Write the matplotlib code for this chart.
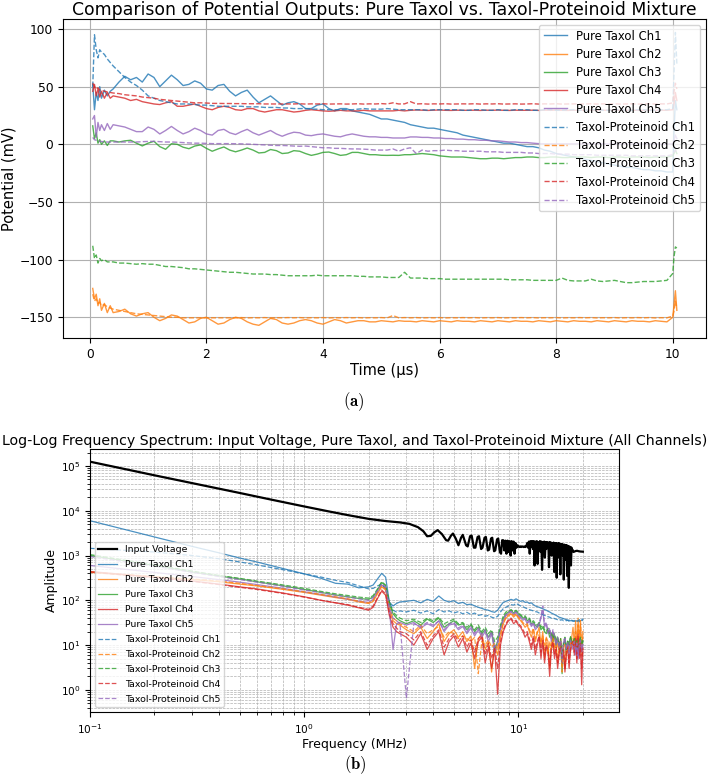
import matplotlib
matplotlib.use("Agg")
import matplotlib.pyplot as plt

plt.rcParams['font.family'] = ['DejaVu Sans']
plt.rcParams['mathtext.fontset'] = 'cm'

# ---------------- (a) time-domain potentials ----------------
time_us = [0.05, 0.08, 0.11, 0.14, 0.17, 0.2, 0.25, 0.3, 0.35, 0.4,
           0.5, 0.6, 0.7, 0.8, 0.9, 1.0, 1.1, 1.2, 1.3, 1.4,
           1.5, 1.6, 1.7, 1.8, 1.9, 2.0, 2.1, 2.2, 2.3, 2.4,
           2.5, 2.6, 2.7, 2.8, 2.9, 3.0, 3.1, 3.2, 3.3, 3.4,
           3.5, 3.6, 3.7, 3.8, 3.9, 4.0, 4.1, 4.2, 4.3, 4.4,
           4.5, 4.6, 4.7, 4.8, 4.9, 5.0, 5.1, 5.2, 5.3, 5.4,
           5.5, 5.6, 5.7, 5.8, 5.9, 6.0, 6.1, 6.2, 6.3, 6.4,
           6.5, 6.6, 6.7, 6.8, 6.9, 7.0, 7.1, 7.2, 7.3, 7.4,
           7.5, 7.6, 7.7, 7.8, 7.9, 8.0, 8.1, 8.2, 8.3, 8.4,
           8.5, 8.6, 8.7, 8.8, 8.9, 9.0, 9.1, 9.2, 9.3, 9.4,
           9.5, 9.6, 9.7, 9.8, 9.9, 10.0,
           10.02, 10.045, 10.07]

pure_ch1 = [52, 30, 45, 38, 50, 40, 47, 42, 46, 48,
            54, 59, 56, 58, 54, 61, 58, 50, 55, 60,
            56, 51, 52, 55, 53, 48, 47, 51, 52, 46,
            42, 45, 47, 41, 36, 39, 42, 38, 34, 36,
            37, 35, 31, 31, 34, 35, 31, 29, 31, 31,
            29, 28, 27, 26, 24, 22, 22, 21, 20, 19,
            17, 16, 15, 14, 14, 13, 12, 11, 10, 8,
            7, 6, 5, 4, 3, 2, 1, 1, 0, -1,
            -2, -2, -3, -5, -6, -8, -9, -10, -11, -12,
            -13, -14, -15, -16, -17, -18, -19, -20, -20, -21,
            -22, -22, -23, -23, -24, -24,
            10, 38, 30]
pure_ch2 = [-125, -134, -130, -140, -134, -144, -138, -146, -140, -146,
            -145, -143, -147, -149, -147, -146, -150, -153, -151, -148,
            -149, -152, -155, -154, -151, -150, -153, -156, -155, -152,
            -150, -151, -154, -156, -157, -154, -151, -152, -155, -156,
            -155, -153, -152, -153, -155, -156, -154, -152, -153, -155,
            -154, -153, -153, -154, -154, -153, -153.5, -154, -153, -153.5,
            -153.5, -154, -153, -153.5, -154, -153, -153.5, -154, -153, -153.5,
            -153.5, -154, -153, -153.5, -154, -153, -153.5, -154, -153, -153.5,
            -153.5, -154, -153, -153.5, -154, -153, -153.5, -154, -153, -153.5,
            -153.5, -154, -153, -153.5, -154, -153, -153.5, -154, -153, -153.5,
            -153.5, -154, -153, -153.5, -154, -150,
            -140, -127, -144]
pure_ch3 = [16, 5, 10, 1, 4, 0, 3, -1, 3, 3,
            2, 3, 3.5, 1, -1.4, 1, 2.6, -2, -4.3, 0.5,
            0, -2.5, -3.8, -1.5, -0.5, -3.5, -6, -4, -2.3, -5,
            -6.5, -5, -3.2, -5, -7.5, -7, -4.5, -5.5, -8, -7.5,
            -5.5, -6, -8, -9.6, -8.5, -7, -6.7, -8, -9.6, -9,
            -7, -7, -8, -9, -9, -9.5, -9.6, -9.5, -9.6, -9,
            -9, -8.5, -8, -8.5, -9, -10, -10.5, -11, -11, -11,
            -11.5, -12, -12.5, -12.5, -12, -12, -12.5, -12, -11.5, -11.5,
            -11, -11, -11.5, -11.5, -11, -11, -11.5, -11.5, -11, -11,
            -11, -11.5, -11, -11, -11.5, -11, -11, -11.5, -11, -11,
            -11, -11.5, -11, -11, -11, -10,
            -8, -5, -8]
pure_ch4 = [46, 52, 42, 48, 41, 46, 40, 45, 40, 42,
            41, 40, 38, 39, 37, 36, 35, 34.5, 36, 37,
            33, 33, 34, 35, 33, 31, 30, 32, 33, 32,
            30, 29.5, 31, 31, 29, 28, 29, 30, 30, 29,
            28, 28.5, 29.5, 30, 29.5, 29, 28.7, 29, 29.5, 29,
            29, 29, 29.5, 29, 29, 29, 29, 29, 29.5, 29,
            29.5, 29.8, 29.6, 29.4, 29.6, 29.8, 29.5, 29.4, 29.6, 29.5,
            29.5, 29.6, 29.4, 29.6, 29.5, 29.7, 29.5, 29.4, 29.6, 29.5,
            29.5, 29.6, 29.4, 29.6, 29.5, 29.7, 29.5, 29.4, 29.6, 29.5,
            29.5, 29.6, 29.4, 29.6, 29.5, 29.7, 29.5, 29.4, 29.6, 29.5,
            29.5, 29.6, 29.4, 29.6, 29.5, 30,
            35, 45, 38]
pure_ch5 = [22, 25, 6, 19, 12, 17, 12, 18, 13, 17,
            16, 15, 13, 11, 11, 15, 13, 9, 12, 15.5,
            12, 9, 11, 14, 12, 9, 8, 12, 13, 10,
            8.5, 11, 13, 10, 8, 10, 12, 9, 7, 9,
            10.5, 10, 8, 7.5, 8.5, 9, 8, 7, 6.5, 8,
            9, 8, 7, 6.5, 6.5, 6, 6, 5.5, 5.5, 5.5,
            6.4, 6.4, 6, 6, 5.5, 5.5, 5, 5, 4.5, 4.5,
            4, 4, 3.5, 3.5, 3, 3, 2.5, 2, 2, 1.5,
            1.5, 1, 0.6, 0.5, 0.5, 0.5, 0.5, 0.5, 0.5, 0.5,
            0.5, 0.5, 0.5, 0.5, 0.3, 0.3, 0.3, 0.3, 0.3, 0.3,
            0.3, 0.3, 0.3, 0.2, 0.2, 0.5,
            3, 8, 5]

tp_ch1 = [50, 95, 82, 75, 82, 80, 78, 74, 71, 68,
          63, 58, 54, 51, 47, 42, 40, 38, 37, 36,
          35, 35, 35, 34.5, 34, 34, 33.5, 33, 33, 33,
          33, 33, 32.5, 32.5, 32.5, 32, 32, 32, 31.5, 31.5,
          31, 31, 31, 30.5, 30.5, 30, 30, 30, 30, 30,
          30, 30.5, 31, 30.5, 30.5, 30.5, 31, 30.5, 30, 30,
          30, 30, 30, 29.5, 30, 30, 30, 30, 30, 29.5,
          29.5, 30, 30, 29.5, 29.5, 30, 29.5, 29.5, 30, 30,
          30, 29.5, 29.5, 30, 30, 29.5, 29.5, 30, 30, 29.5,
          29.5, 30, 30, 29.5, 29.5, 30, 30, 29.5, 29.5, 30,
          30, 29.5, 29.5, 30, 30, 31,
          60, 97, 70]
tp_ch2 = [-130, -136, -134, -138, -137, -140, -139, -141, -142, -143,
          -144, -145, -146, -147, -147.5, -148, -148.5, -149, -149.5, -150,
          -150, -150.5, -150.5, -150.5, -150.5, -150.5, -150.5, -150.5, -150.5, -150.5,
          -150.5, -150.3, -150.6, -150.4, -150.5, -150.3, -150.6, -150.4, -150.5, -150.3,
          -150.5, -150.3, -150.6, -150.4, -150.5, -150.3, -150.6, -150.4, -150.5, -150.3,
          -150.5, -150.3, -150.6, -150.4, -150.5, -150.3, -150.6, -148.5, -150.5, -150.3,
          -150.5, -150.3, -150.6, -150.4, -150.5, -150.3, -150.6, -150.4, -150.5, -150.3,
          -150.5, -150.3, -150.6, -150.4, -150.5, -150.3, -150.6, -150.4, -150.5, -150.3,
          -150.5, -150.3, -150.6, -150.4, -150.5, -150.3, -150.6, -150.4, -150.5, -150.3,
          -150.5, -150.3, -150.6, -150.4, -150.5, -150.3, -150.6, -150.4, -150.5, -150.3,
          -150.5, -150.3, -150.6, -150.4, -150.5, -149,
          -145, -136, -142]
tp_ch3 = [-88, -99, -96, -103, -99, -101, -100, -102, -102, -102,
          -103, -103, -103.5, -104, -103.5, -104, -104, -105, -106, -106,
          -106.5, -107, -108, -108, -108.5, -109, -109.5, -110, -110.5, -111,
          -111, -111.5, -112, -112.5, -112.5, -112.5, -113, -113, -113.5, -114,
          -114, -114, -114, -114, -113.5, -114, -114, -114, -114, -114,
          -114, -114.5, -114.5, -115, -115, -115, -115.5, -115.5, -115.5, -111,
          -116, -116, -116, -116.5, -116.5, -116.5, -117, -117, -117, -117,
          -117, -117, -117, -117, -117, -117, -117, -117.5, -117.5, -117.5,
          -117.5, -118, -118, -118, -118, -118, -116, -118, -118.5, -118.5,
          -118.5, -117, -118.5, -119, -118.5, -118, -119, -120, -120, -119.5,
          -119, -119, -119, -118.5, -118, -112,
          -98, -89, -90]
tp_ch4 = [53, 50, 48, 49, 47, 47, 46, 45.5, 45, 44.5,
          44, 43, 42.5, 42, 41, 40.5, 40, 39, 38.5, 38,
          37.5, 37, 36.5, 36, 36, 35.8, 35.5, 35.5, 35.4, 35.4,
          35.3, 35.3, 35.2, 35.2, 35.2, 35, 35, 35, 35, 35,
          35, 35.2, 34.9, 35.1, 35, 35.2, 34.9, 35, 35.1, 34.9,
          35, 35.2, 34.9, 35.1, 35, 35.3, 35, 36, 35, 35.1,
          37, 35, 35.2, 34.9, 35.1, 35, 35.2, 34.9, 35, 35.1,
          35, 35.2, 34.9, 35.1, 35, 35.2, 34.9, 35, 35.1, 34.9,
          35, 35.2, 34.9, 35.1, 35, 35.2, 34.9, 35, 35.1, 34.9,
          35, 35.2, 34.9, 35.1, 35, 35.2, 34.9, 35, 35.1, 34.9,
          35, 35.2, 34.9, 35.1, 35, 36,
          45, 53, 48]
tp_ch5 = [6, 4, 3.5, 3, 2.5, 2.5, 2, 2, 2, 2,
          2, 2, 2, 2, 2.3, 2.5, 2.6, 2.3, 2, 2,
          1.8, 1.5, 1.2, 1, 1, 0.8, 0.6, 0.6, 0.6, 0.6,
          0.5, 0.4, 0.2, 0, -0.3, -0.5, -0.8, -1, -1, -1.2,
          -1.5, -1.7, -1.5, -2, -2.5, -3, -3, -3.5, -3.5, -3.8,
          -4, -4, -4.2, -4.5, -5, -5, -5, -4, -6, -4,
          -3, -8, -5, -6, -5.5, -5.5, -5, -5.5, -5.5, -6,
          -6, -6, -6, -6.5, -6.5, -6.5, -7, -7, -7, -7,
          -7.5, -7.5, -8, -8, -8, -8.5, -8.5, -8.5, -9, -9,
          -9, -9, -9.5, -9.5, -9.5, -9.5, -9.5, -9.5, -10, -10,
          -10, -10, -10, -10, -10, -9,
          -7, -5, -7]

# ---------------- (b) frequency spectra ----------------
freq_mhz = [0.1, 0.2, 0.3, 0.4, 0.5, 0.6, 0.8, 1.0, 1.2, 1.4,
            1.6, 1.8, 2.0, 2.1, 2.2, 2.3, 2.4, 2.5, 2.6, 2.7, 2.8,
            3.0, 3.25, 3.5, 3.75, 4.0, 4.25, 4.5, 4.75, 5.0, 5.25,
            5.5, 5.75, 6.0, 6.25, 6.5, 6.75, 7.0, 7.25, 7.5, 7.75,
            8.0, 8.25, 8.5, 8.75, 9.0, 9.25, 9.5, 9.75, 10.0, 10.25,
            10.5, 10.75, 11.0, 11.25, 11.5, 11.75, 12.0, 12.25, 12.5, 12.75,
            13.0, 13.25, 13.5, 13.75, 14.0, 14.25, 14.5, 14.75, 15.0, 15.25,
            15.5, 15.75, 16.0, 16.25, 16.5, 16.75, 17.0, 17.25, 17.5, 17.75,
            18.0, 18.25, 18.5, 18.75, 19.0, 19.25, 19.5, 19.75, 20.0]

freq_input = [0.1, 0.2, 0.3, 0.5, 0.7, 1.0, 1.3, 1.6, 2.0, 2.4,
              2.8, 3.1, 3.4, 3.6, 3.75, 3.9, 4.05, 4.2, 4.4, 4.6,
              4.7, 4.85, 4.95, 5.1, 5.25, 5.4, 5.5, 5.7, 5.8, 5.95,
              6.05, 6.2, 6.3, 6.45, 6.55, 6.7, 6.8, 6.95, 7.05, 7.2,
              7.3, 7.45, 7.55, 7.7, 7.8, 7.95, 8.05, 8.2, 8.3, 8.4,
              8.5, 8.6, 8.7, 8.8, 8.9, 9.0, 9.1, 9.2, 9.3, 9.4,
              9.5, 9.6, 9.7, 9.8, 9.9, 10.0, 10.1, 10.2, 10.3, 10.4,
              10.5, 10.6, 10.7, 10.8, 10.9, 11.0, 11.1, 11.2, 11.3, 11.4,
              11.5, 11.6, 11.7, 11.8, 11.9, 12.0, 12.1, 12.2, 12.3, 12.4,
              12.5, 12.6, 12.7, 12.8, 12.9, 13.0, 13.1, 13.2, 13.3, 13.4,
              13.5, 13.6, 13.7, 13.8, 13.9, 14.0, 14.1, 14.2, 14.3, 14.4,
              14.5, 14.6, 14.7, 14.8, 14.9, 15.0, 15.1, 15.2, 15.3, 15.4,
              15.5, 15.6, 15.7, 15.8, 15.9, 16.0, 16.1, 16.2, 16.3, 16.4,
              16.5, 16.6, 16.7, 16.8, 16.9, 17.0, 17.1, 17.2, 17.3, 17.4,
              17.5, 17.6, 17.7, 17.8, 17.9, 18.0, 18.1, 18.2,
              18.5, 18.8, 19.1, 19.5, 20.0]
input_amp = [125000, 62000, 41500, 25000, 17800, 12500, 9700, 8000, 6600, 5900,
             5500, 5100, 4300, 3500, 2700, 2750, 3300, 3700, 3000, 2200,
             2150, 2800, 3100, 2400, 1700, 2500, 2900, 1700, 1600, 2700,
             2800, 1500, 1500, 2600, 2700, 1400, 1500, 2500, 2600, 1300,
             1350, 2400, 2500, 1250, 1300, 2300, 2400, 1200, 1100, 2200,
             2200, 1300, 2150, 1100, 2150, 1200, 2100, 1000, 2100, 1300,
             2050, 1100, 1900, 1500, 1700, 1600, 1550, 1600, 1550, 1600,
             1580, 1550, 1600, 1550, 1650, 1900, 1500, 2050, 1100, 2100,
             1600, 2100, 1400, 2100, 600, 2050, 1500, 2100, 650, 2000,
             1600, 2100, 1200, 2050, 480, 2000, 1500, 2050, 900, 2000,
             1400, 2000, 1600, 1950, 550, 2000, 1500, 1950, 1000, 1900,
             1300, 1950, 430, 1900, 1500, 1900, 320, 1850, 1400, 1900,
             900, 1850, 380, 1800, 1400, 1800, 1000, 1750, 290, 1750,
             1300, 1700, 800, 1700, 350, 1650, 1200, 190, 1600, 1400,
             1550, 600, 1500, 1300, 1350, 1250, 1200, 1220,
             1260, 1280, 1250, 1230, 1220]

spec_pure_ch1 = [6000, 2600, 1600, 1150, 880, 720, 510, 390, 310, 240,
                 230, 190, 200, 220, 300, 400, 330, 90, 75, 85, 92,
                 95, 100, 88, 105, 95, 125, 100, 92, 98, 85,
                 90, 80, 82, 75, 70, 66, 62, 60, 56, 54,
                 60, 75, 90, 95, 100, 105, 100, 108, 100, 95,
                 98, 90, 92, 85, 88, 80, 75, 72, 70, 67,
                 65, 62, 60, 57, 55, 52, 50, 48, 46, 44,
                 42, 41, 40, 39, 38, 37, 36, 36, 35, 35,
                 35, 34, 34, 35, 34, 33, 35, 36, 38]
spec_pure_ch2 = [420, 330, 290, 260, 230, 210, 175, 150, 130, 115,
                 105, 92, 85, 95, 140, 200, 170, 60, 35, 30, 28,
                 22, 18, 25, 14, 20, 30, 12, 18, 22, 15,
                 20, 12, 16, 3, 14, 18, 8, 12, 2.5, 10,
                 6, 15, 30, 40, 45, 50, 42, 48, 40, 35,
                 30, 25, 28, 20, 15, 22, 12, 18, 25, 10,
                 20, 5, 15, 12, 3, 10, 18, 8, 12, 4,
                 9, 14, 6, 10, 3, 8, 12, 5, 9, 15,
                 25, 10, 35, 8, 40, 12, 30, 6, 20]
spec_pure_ch3 = [1000, 600, 430, 350, 300, 260, 210, 175, 150, 132,
                 120, 110, 105, 120, 170, 250, 210, 80, 50, 40, 35,
                 30, 35, 28, 38, 32, 40, 25, 30, 35, 28,
                 30, 22, 28, 20, 25, 18, 22, 15, 20, 8,
                 12, 25, 40, 50, 55, 60, 52, 58, 50, 45,
                 40, 42, 35, 38, 30, 32, 28, 25, 30, 22,
                 25, 20, 18, 22, 15, 18, 12, 16, 10, 14,
                 8, 12, 2.3, 10, 14, 6, 12, 9, 15, 11,
                 10, 13, 8, 12, 6, 10, 14, 8, 12]
spec_pure_ch4 = [440, 330, 270, 230, 200, 180, 145, 120, 100, 88,
                 78, 68, 60, 70, 110, 160, 130, 45, 25, 20, 18,
                 15, 10, 18, 8, 14, 20, 6, 12, 16, 9,
                 14, 7, 11, 5, 12, 15, 4, 9, 3, 8,
                 0.8, 10, 20, 28, 35, 38, 30, 34, 28, 25,
                 20, 15, 18, 12, 8, 14, 6, 10, 15, 5,
                 12, 4, 9, 7, 2, 8, 11, 5, 8, 3,
                 6, 10, 4, 7, 2.5, 6, 9, 3, 7, 10,
                 12, 6, 15, 4, 18, 5, 10, 1.3, 8]
spec_pure_ch5 = [600, 420, 340, 290, 255, 225, 185, 155, 135, 118,
                 106, 96, 90, 105, 155, 220, 190, 60, 8, 30, 32,
                 28, 32, 24, 30, 26, 35, 20, 28, 30, 22,
                 26, 18, 24, 16, 22, 15, 20, 12, 18, 7,
                 10, 22, 35, 45, 52, 55, 48, 54, 45, 40,
                 36, 38, 30, 34, 26, 30, 22, 25, 28, 40,
                 60, 25, 30, 18, 22, 12, 20, 15, 10, 14,
                 8, 12, 4, 10, 14, 7, 11, 6, 12, 9,
                 8, 11, 6, 10, 5, 9, 12, 7, 10]

spec_tp_ch1 = [1450, 1200, 1000, 850, 720, 620, 480, 390, 330, 280,
               250, 210, 180, 185, 210, 230, 180, 90, 60, 55, 58,
               55, 60, 52, 58, 50, 62, 55, 58, 52, 56,
               50, 54, 48, 52, 46, 48, 44, 46, 42, 40,
               44, 55, 65, 70, 75, 80, 78, 85, 80, 75,
               72, 68, 65, 62, 60, 58, 56, 55, 52, 50,
               48, 46, 45, 43, 42, 40, 41, 39, 38, 37,
               38, 36, 37, 35, 36, 35, 36, 34, 35, 36,
               34, 35, 36, 34, 35, 37, 34, 36, 35]
spec_tp_ch2 = [430, 340, 300, 270, 240, 215, 180, 155, 135, 120,
               108, 95, 88, 100, 150, 210, 180, 70, 40, 35, 30,
               25, 20, 28, 18, 22, 26, 15, 20, 18, 14,
               16, 14, 12, 15, 2.3, 12, 10, 13, 9, 11,
               8, 18, 32, 42, 48, 52, 46, 50, 42, 38,
               32, 28, 30, 22, 18, 24, 14, 20, 16, 12,
               16, 10, 14, 6, 12, 8, 15, 10, 7, 11,
               8, 12, 2.5, 9, 11, 6, 10, 7, 12, 9,
               14, 8, 20, 10, 28, 12, 35, 9, 15]
spec_tp_ch3 = [1050, 620, 450, 360, 310, 270, 220, 185, 158, 140,
               128, 118, 112, 128, 180, 260, 220, 90, 55, 45, 40,
               35, 38, 32, 40, 35, 42, 30, 34, 38, 30,
               32, 25, 30, 22, 28, 20, 25, 18, 22, 12,
               15, 28, 45, 55, 58, 62, 55, 60, 52, 48,
               42, 45, 38, 40, 32, 35, 30, 28, 32, 25,
               28, 22, 20, 24, 18, 20, 14, 18, 12, 16,
               10, 14, 5, 12, 15, 8, 13, 10, 16, 12,
               12, 14, 10, 13, 8, 12, 15, 10, 13]
spec_tp_ch4 = [430, 320, 265, 225, 195, 175, 142, 118, 100, 88,
               80, 70, 63, 75, 115, 170, 140, 50, 30, 24, 20,
               18, 13, 20, 10, 16, 22, 9, 14, 18, 12,
               16, 9, 13, 7, 14, 16, 6, 11, 5, 9,
               3, 12, 22, 30, 38, 40, 33, 36, 30, 27,
               22, 18, 20, 14, 10, 16, 8, 12, 16, 7,
               13, 6, 10, 8, 3.5, 9, 12, 6, 9, 4,
               7, 11, 5, 8, 3, 7, 10, 4, 8, 11,
               12, 7, 14, 5, 16, 6, 11, 3, 9]
spec_tp_ch5 = [950, 580, 420, 340, 290, 255, 205, 170, 148, 130,
               118, 108, 100, 115, 165, 230, 200, 70, 40, 35, 30,
               0.65, 30, 26, 32, 28, 34, 22, 30, 32, 24,
               28, 20, 26, 18, 24, 17, 22, 14, 20, 9,
               12, 24, 38, 48, 54, 57, 50, 55, 47, 42,
               38, 40, 32, 36, 28, 32, 24, 27, 30, 45,
               75, 28, 32, 20, 24, 14, 22, 16, 12, 15,
               9, 13, 5, 11, 15, 8, 12, 7, 13, 10,
               9, 12, 7, 11, 6, 10, 13, 8, 11]

channels = ["Ch1", "Ch2", "Ch3", "Ch4", "Ch5"]
colors = ["#1f77b4", "#ff7f0e", "#2ca02c", "#d62728", "#9467bd"]
time_pure = [pure_ch1, pure_ch2, pure_ch3, pure_ch4, pure_ch5]
time_tp = [tp_ch1, tp_ch2, tp_ch3, tp_ch4, tp_ch5]
spec_pure = [spec_pure_ch1, spec_pure_ch2, spec_pure_ch3, spec_pure_ch4, spec_pure_ch5]
spec_tp = [spec_tp_ch1, spec_tp_ch2, spec_tp_ch3, spec_tp_ch4, spec_tp_ch5]

for s in time_pure + time_tp:
    assert len(s) == len(time_us), len(s)
for s in spec_pure + spec_tp:
    assert len(s) == len(freq_mhz), len(s)
assert len(input_amp) == len(freq_input), (len(input_amp), len(freq_input))

fig = plt.figure(figsize=(7.08, 7.77), dpi=100)

# ---- top panel ----
ax1 = fig.add_axes([63 / 708, 1 - 338 / 777, 643 / 708, 319 / 777])
for ch, col, ys in zip(channels, colors, time_pure):
    ax1.plot(time_us, ys, color=col, lw=1.0, alpha=0.8, label=f"Pure Taxol {ch}")
for ch, col, ys in zip(channels, colors, time_tp):
    ax1.plot(time_us, ys, color=col, lw=1.0, alpha=0.8, ls="--", label=f"Taxol-Proteinoid {ch}")
ax1.set_xlim(-0.46, 10.57)
ax1.set_ylim(-168, 108.7)
ax1.set_xticks([0, 2, 4, 6, 8, 10])
ax1.set_yticks([-150, -100, -50, 0, 50, 100])
ax1.tick_params(labelsize=8.8)
ax1.grid(True)
ax1.set_title("Comparison of Potential Outputs: Pure Taxol vs. Taxol-Proteinoid Mixture",
              fontsize=12.4, pad=3)
ax1.set_xlabel("Time (μs)", fontsize=10.5, labelpad=2)
ax1.set_ylabel("Potential (mV)", fontsize=10.5, labelpad=2)
ax1.legend(loc="upper right", fontsize=8.4, labelspacing=0.45)
fig.text(354 / 708, 1 - 402 / 777, r"$(\mathbf{a})$", ha="center", va="center", fontsize=12)

# ---- bottom panel ----
ax2 = fig.add_axes([90 / 708, 1 - 712 / 777, 529 / 708, 263 / 777])
ax2.loglog(freq_input, input_amp, color="black", lw=1.6, label="Input Voltage")
for ch, col, ys in zip(channels, colors, spec_pure):
    ax2.loglog(freq_mhz, ys, color=col, lw=0.9, alpha=0.8, label=f"Pure Taxol {ch}")
for ch, col, ys in zip(channels, colors, spec_tp):
    ax2.loglog(freq_mhz, ys, color=col, lw=0.9, alpha=0.8, ls="--", label=f"Taxol-Proteinoid {ch}")
ax2.set_xlim(0.1, 29.5)
ax2.set_ylim(0.32, 2.4e5)
ax2.tick_params(labelsize=7.6)
ax2.grid(True, which="both", ls="--", lw=0.5)
ax2.set_title("Log-Log Frequency Spectrum: Input Voltage, Pure Taxol, and Taxol-Proteinoid Mixture (All Channels)",
              fontsize=10.2, pad=3)
ax2.set_xlabel("Frequency (MHz)", fontsize=9, labelpad=2)
ax2.set_ylabel("Amplitude", fontsize=9, labelpad=2)
ax2.legend(loc="lower left", fontsize=6.75, labelspacing=0.63)
fig.text(355 / 708, 1 - 765 / 777, r"$(\mathbf{b})$", ha="center", va="center", fontsize=12)

fig.savefig("out.png", dpi=100)
